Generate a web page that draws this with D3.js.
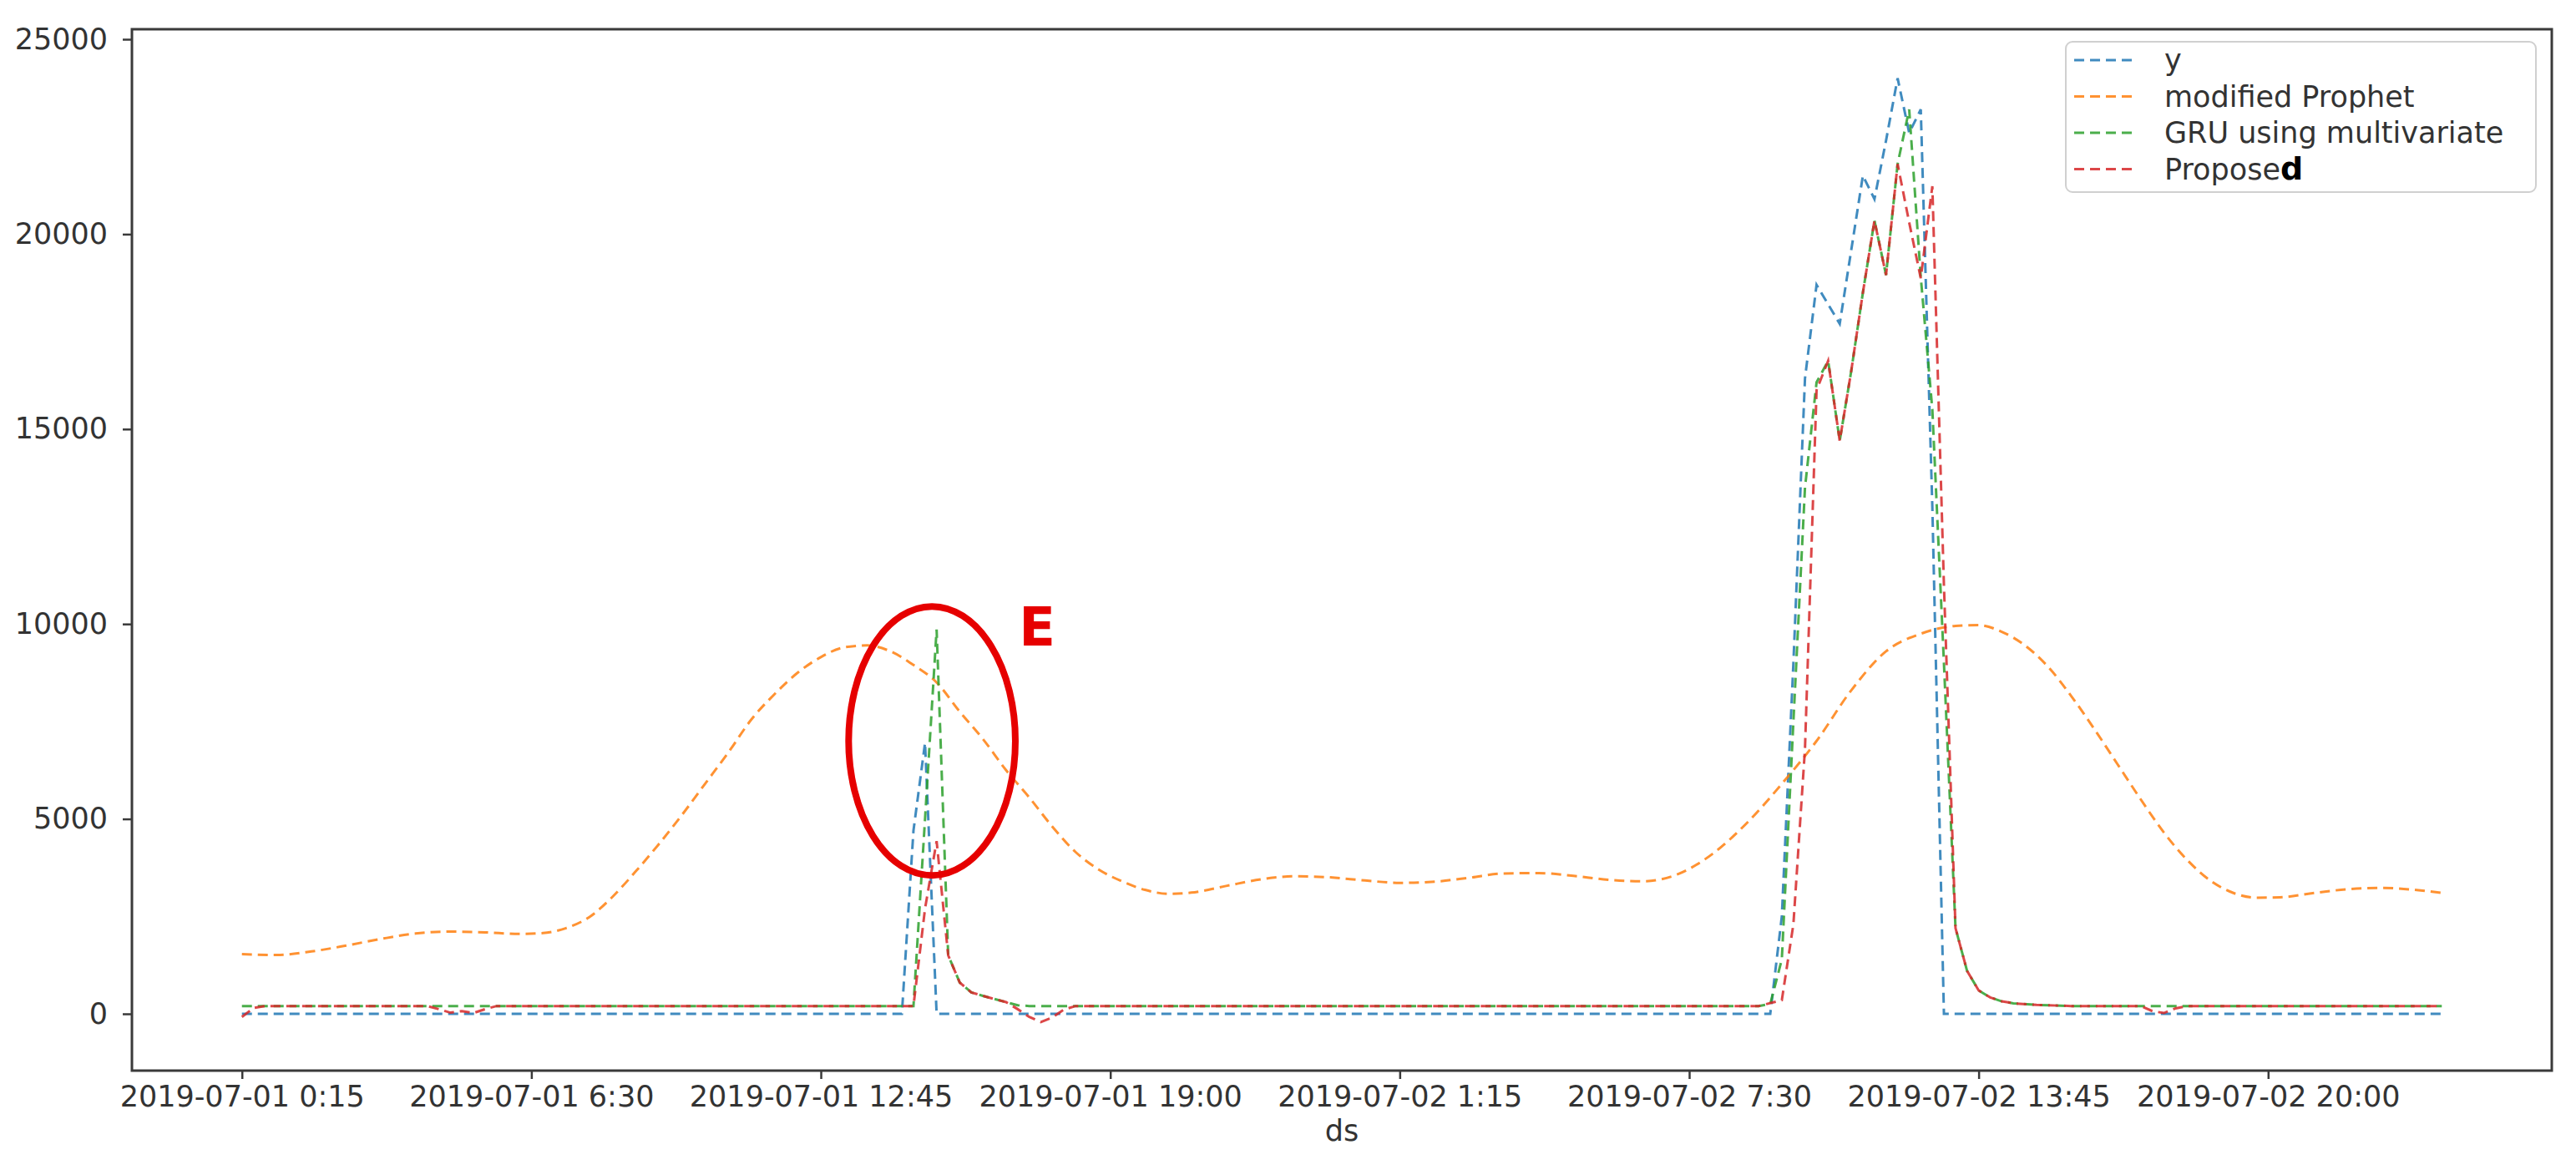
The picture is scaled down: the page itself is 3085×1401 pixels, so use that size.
<!DOCTYPE html>
<html lang="en">
  <head>
    <meta charset="UTF-8">
    <title>y vs forecasts</title>
    <style>
      html,body{
        margin: 0;
        padding: 0;
        background-color: #fff;
      }
      svg text{
        font-family: "DejaVu Sans", sans-serif;
        fill: #333;
      }
    </style>
  </head>
  <body>
    <div id="chart"></div>
    <script src="https://d3js.org/d3.v7.min.js"></script>
    <script>
      // x = number of 15 minute steps after 2019-07-01 0:15 (191 samples, last step 190)
      var lastStep = 190;
      var tickSteps = [0, 25, 50, 75, 100, 125, 150, 175];
      var tickLabels = ["2019-07-01 0:15", "2019-07-01 6:30", "2019-07-01 12:45", "2019-07-01 19:00",
                        "2019-07-02 1:15", "2019-07-02 7:30", "2019-07-02 13:45", "2019-07-02 20:00"];
      var yTicks = [0, 5000, 10000, 15000, 20000, 25000];

      // [step, value]
      var seriesY = [
        [0,0],[57,0],[58,4700],[59,6950],[60,0],[132,0],[133,2500],[134,9000],[135,16300],
        [136,18700],[137,18200],[138,17700],[139,19600],[140,21500],[141,20900],[142,22400],
        [143,24000],[144,22600],[145,23200],[146,13000],[147,0],[190,0]
      ];
      var seriesProphet = [
        [0,1530],[3,1510],[6,1600],[9,1750],[12,1920],[15,2060],[18,2110],[21,2090],[24,2050],
        [26,2070],[28,2200],[30,2480],[32,3000],[34,3650],[36,4350],[38,5100],[40,5900],[42,6700],
        [44,7550],[46,8200],[48,8750],[50,9150],[52,9400],[54,9450],[56,9300],[58,8950],[60,8500],
        [62,7750],[64,7050],[66,6250],[68,5550],[70,4800],[72,4150],[74,3700],[76,3400],[78,3180],
        [80,3080],[82,3110],[85,3280],[88,3450],[91,3530],[94,3500],[97,3420],[100,3360],[103,3390],
        [106,3490],[109,3600],[112,3610],[115,3540],[118,3440],[121,3400],[124,3580],[127,4100],
        [130,4900],[133,5900],[136,7000],[139,8300],[142,9300],[145,9750],[148,9950],[150,9970],
        [152,9800],[154,9450],[156,8900],[158,8150],[160,7300],[162,6400],[164,5500],[166,4650],
        [168,3950],[170,3420],[172,3100],[174,2980],[176,2990],[179,3100],[182,3200],[185,3230],
        [188,3170],[190,3100]
      ];
      var seriesGru = [
        [0,200],[58,200],[59,5000],[60,9860],[61,1500],[62,800],[63,550],[64,460],[65,380],[66,300],
        [67,220],[68,200],[131,200],[132,250],[133,1400],[134,7500],[135,13500],[136,16200],
        [137,16750],[138,14700],[139,16500],[140,18500],[141,20350],[142,18950],[143,21800],
        [144,23200],[145,18900],[146,15500],[147,9000],[148,2200],[149,1100],[150,600],[151,420],
        [152,320],[153,270],[155,230],[158,200],[190,200]
      ];
      var seriesProposed = [
        [0,-80],[1,150],[2,200],[16,200],[17,120],[18,30],[19,70],[20,20],[21,120],[22,200],
        [58,200],[59,2700],[60,4430],[61,1500],[62,800],[63,550],[64,460],[65,380],[66,300],
        [67,120],[68,-80],[69,-210],[70,-90],[71,110],[72,200],[131,200],[133,350],[134,2300],
        [135,6800],[136,16000],[137,16750],[138,14700],[139,16500],[140,18500],[141,20350],
        [142,18950],[143,21800],[144,20300],[145,18870],[146,21230],[147,11000],[148,2200],
        [149,1100],[150,600],[151,420],[152,320],[153,270],[155,230],[158,200],[164,200],
        [165,70],[166,20],[167,140],[168,200],[190,200]
      ];

      var seriesNames = ["y", "modified Prophet", "GRU using multivariate", "Proposed"];
      var seriesColors = ["#1f77b4", "#ff7f0e", "#2ca02c", "#d62728"];

      // red mark drawn on the figure: centre in data units, half sizes in steps / value
      var markE = { step: 59.6, value: 7000, halfSteps: 7.2, halfValue: 3450, labelStep: 67.1, labelValue: 9450 };

      var chart = {
        width: 3085,
        height: 1401,
        box: { left: 158, right: 3056, top: 35, bottom: 1282 },
        init: function(){
          var b = this.box;
          var svg = d3.select("#chart").append("svg")
            .attr("width", this.width)
            .attr("height", this.height);

          // 5% padding like matplotlib
          var x = d3.scaleLinear().domain([-9.5, lastStep + 9.5]).range([b.left, b.right]);
          var y = d3.scaleLinear().domain([-1457, 25257]).range([b.bottom, b.top]);

          // lines, drawn in legend order
          var all = [seriesY, seriesProphet, seriesGru, seriesProposed];
          all.forEach(function(data, k){
            var line = d3.line()
              .x(function(d){ return x(d[0]); })
              .y(function(d){ return y(d[1]); });
            if(k === 1){
              line.curve(d3.curveMonotoneX);
            }
            svg.append("path")
              .datum(data)
              .attr("d", line)
              .attr("fill", "none")
              .attr("stroke", seriesColors[k])
              .attr("stroke-width", 3)
              .attr("stroke-opacity", 0.85)
              .attr("stroke-dasharray", "12,7");
          });

          // frame
          svg.append("rect")
            .attr("x", b.left)
            .attr("y", b.top)
            .attr("width", b.right - b.left)
            .attr("height", b.bottom - b.top)
            .attr("fill", "none")
            .attr("stroke", "#3a3a3a")
            .attr("stroke-width", 3);

          // y axis
          var gy = svg.append("g")
            .attr("transform", "translate(" + b.left + ",0)")
            .call(d3.axisLeft(y).tickValues(yTicks).tickSize(11).tickPadding(18).tickFormat(d3.format("d")));
          gy.select(".domain").remove();
          gy.selectAll("line").attr("stroke", "#3a3a3a").attr("stroke-width", 2.5);
          gy.selectAll("text").attr("font-size", 35).attr("font-family", "DejaVu Sans").attr("fill", "#333");

          // x axis
          var gx = svg.append("g")
            .attr("transform", "translate(0," + b.bottom + ")")
            .call(d3.axisBottom(x).tickValues(tickSteps).tickSize(10).tickPadding(8)
              .tickFormat(function(d, i){ return tickLabels[i]; }));
          gx.select(".domain").remove();
          gx.selectAll("line").attr("stroke", "#3a3a3a").attr("stroke-width", 2.5);
          gx.selectAll("text").attr("font-size", 35).attr("font-family", "DejaVu Sans").attr("fill", "#333");

          svg.append("text")
            .attr("x", (b.left + b.right) / 2)
            .attr("y", 1366)
            .attr("text-anchor", "middle")
            .attr("font-size", 35)
            .text("ds");

          this.legend(svg);
          this.mark(svg, x, y);
        },
        legend: function(svg){
          var g = svg.append("g").attr("transform", "translate(2474,50)");
          g.append("rect")
            .attr("width", 563)
            .attr("height", 180)
            .attr("rx", 8)
            .attr("fill", "#fff")
            .attr("fill-opacity", 0.8)
            .attr("stroke", "#d0d0d0")
            .attr("stroke-width", 2);
          seriesNames.forEach(function(name, k){
            var cy = 22 + k * 43.5;
            g.append("line")
              .attr("x1", 10).attr("x2", 85)
              .attr("y1", cy).attr("y2", cy)
              .attr("stroke", seriesColors[k])
              .attr("stroke-width", 3)
              .attr("stroke-opacity", 0.85)
              .attr("stroke-dasharray", "12,7");
            var t = g.append("text")
              .attr("x", 118)
              .attr("y", cy + 12)
              .attr("font-size", 35);
            if(name === "Proposed"){
              // last letter was retyped in bold black in the source picture
              t.append("tspan").text("Propose");
              t.append("tspan").text("d").attr("font-weight", "bold").attr("font-size", 38).style("fill", "#000");
            }else{
              t.text(name);
            }
          });
        },
        mark: function(svg, x, y){
          var cx = x(markE.step), cy = y(markE.value);
          svg.append("ellipse")
            .attr("cx", cx)
            .attr("cy", cy)
            .attr("rx", x(markE.step + markE.halfSteps) - cx)
            .attr("ry", cy - y(markE.value + markE.halfValue))
            .attr("fill", "none")
            .attr("stroke", "#e60000")
            .attr("stroke-width", 8);
          svg.append("text")
            .attr("x", x(markE.labelStep))
            .attr("y", y(markE.labelValue))
            .attr("font-family", "Liberation Sans")
            .attr("font-weight", "bold")
            .attr("font-size", 64)
            .style("fill", "#e60000")
            .text("E");
        }
      };
      chart.init();
    </script>
  </body>
</html>
